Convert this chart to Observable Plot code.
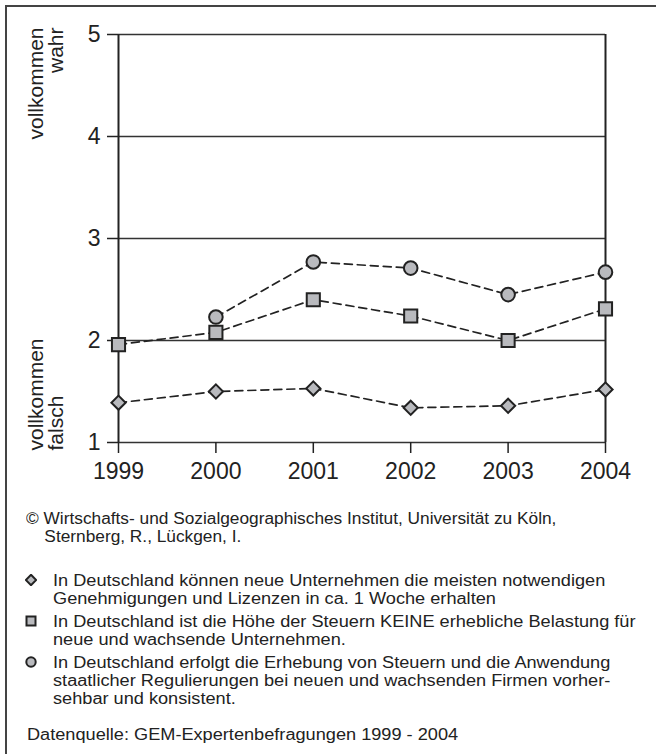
<!DOCTYPE html>
<html>
<head>
<meta charset="utf-8">
<script src="https://cdn.jsdelivr.net/npm/d3@7"></script>
<script src="https://cdn.jsdelivr.net/npm/@observablehq/plot@0.6"></script>
<style>
  html, body { margin: 0; padding: 0; background: #fff; }
  body { width: 656px; height: 754px; position: relative; overflow: hidden;
         font-family: "Liberation Sans", Arial, sans-serif; color: #222; }
  #frame { position: absolute; left: 5px; top: 5px; width: 660px; height: 760px;
           border-left: 2px solid #444; border-top: 2px solid #444; }
  #chart { position: absolute; left: 0; top: 0; }
  .note { position: absolute; white-space: nowrap; transform-origin: 0 0; }
  #copy { left: 26px; top: 510px; font-size: 16px; line-height: 18px; transform: scaleX(1.08); }
  #copy .l2 { padding-left: 17px; }
  .item { left: 53px; font-size: 16px; line-height: 18px; transform: scaleX(1.135); }
  .sw { position: absolute; left: 25px; width: 12px; height: 12px; }
  #source { left: 27px; top: 726px; font-size: 16px; line-height: 18px; transform: scaleX(1.135); }
</style>
</head>
<body>
<div id="frame"></div>
<div id="chart"></div>
<div id="notes"></div>
<script>
// ---- data ----
const years = [1999, 2000, 2001, 2002, 2003, 2004];
const yTicks = [1, 2, 3, 4, 5];
const genehmigungen = [1.39, 1.50, 1.53, 1.34, 1.36, 1.52];   // diamonds
const steuerHoehe   = [1.96, 2.08, 2.40, 2.24, 2.00, 2.31];   // squares
const regulierung   = [null, 2.23, 2.77, 2.71, 2.45, 2.67];   // circles
const seriesNames = [
  "In Deutschland können neue Unternehmen die meisten notwendigen\nGenehmigungen und Lizenzen in ca. 1 Woche erhalten",
  "In Deutschland ist die Höhe der Steuern KEINE erhebliche Belastung für\nneue und wachsende Unternehmen.",
  "In Deutschland erfolgt die Erhebung von Steuern und die Anwendung\nstaatlicher Regulierungen bei neuen und wachsenden Firmen vorher-\nsehbar und konsistent."
];
const seriesSymbols = ["diamond2", "square", "circle"];
const axisTop = "vollkommen\nwahr";
const axisBottom = "vollkommen\nfalsch";
const copyright = ["© Wirtschafts- und Sozialgeographisches Institut, Universität zu Köln,", "Sternberg, R., Lückgen, I."];
const sourceText = "Datenquelle: GEM-Expertenbefragungen 1999 - 2004";

const seriesValues = [genehmigungen, steuerHoehe, regulierung];
const rows = [];
seriesValues.forEach((vals, s) => years.forEach((yr, i) => rows.push({series: s, year: yr, value: vals[i]})));

const fill = "#b9babe", ink = "#222";
const symR = {diamond2: 6.4, square: 7.4, circle: 6.8};

const marks = [
  Plot.ruleY(yTicks, {stroke: "#333", strokeWidth: 1.5}),
  Plot.ruleX([years[0], years[years.length - 1]], {stroke: ink, strokeWidth: 2}),
  Plot.axisX({ticks: years, tickFormat: d => String(d), tickSize: 11, tickPadding: 9,
              fontSize: 23, strokeWidth: 1.5, label: null}),
  Plot.axisY({ticks: yTicks, tickFormat: d => String(d), tickSize: 11, tickPadding: 7,
              fontSize: 23, strokeWidth: 1.5, label: null}),
  Plot.line(rows, {x: "year", y: "value", z: "series", stroke: ink, strokeWidth: 1.7, strokeDasharray: "8,5"})
];
seriesSymbols.forEach((sym, s) => {
  marks.push(Plot.dot(rows.filter(d => d.series === s && d.value != null),
    {x: "year", y: "value", symbol: sym, r: symR[sym], fill, stroke: ink, strokeWidth: 2}));
});
marks.push(Plot.text([axisTop], {frameAnchor: "top-left", rotate: -90, textAnchor: "end",
  lineAnchor: "bottom", dx: -56, dy: -7, fontSize: 21, lineHeight: 0.95, fill: ink}));
marks.push(Plot.text([axisBottom], {frameAnchor: "bottom-left", rotate: -90, textAnchor: "start",
  lineAnchor: "bottom", dx: -56, dy: 8, fontSize: 21, lineHeight: 0.95, fill: ink}));

const chart = Plot.plot({
  width: 656, height: 490,
  marginLeft: 118, marginRight: 51, marginTop: 34, marginBottom: 48,
  style: {fontFamily: "'Liberation Sans', Arial, sans-serif", color: ink, background: "transparent", overflow: "visible"},
  x: {domain: [years[0], years[years.length - 1]]},
  y: {domain: [yTicks[0], yTicks[yTicks.length - 1]]},
  marks
});
document.getElementById("chart").appendChild(chart);

// ---- notes / legend ----
const notes = document.getElementById("notes");
const cp = document.createElement("div");
cp.id = "copy"; cp.className = "note";
cp.innerHTML = `<div>${copyright[0]}</div><div class="l2">${copyright[1]}</div>`;
notes.appendChild(cp);

const itemTops = [572, 613, 654];
const swatch = {
  diamond2: `<polygon points="6,0.8 11.2,6 6,11.2 0.8,6" />`,
  square: `<rect x="1.5" y="1.5" width="9" height="9" />`,
  circle: `<circle cx="6" cy="6" r="4.7" />`
};
seriesNames.forEach((name, s) => {
  const sw = document.createElementNS("http://www.w3.org/2000/svg", "svg");
  sw.setAttribute("class", "sw");
  sw.style.top = (itemTops[s] + 1.5) + "px";
  sw.setAttribute("viewBox", "0 0 12 12");
  sw.innerHTML = `<g fill="${fill}" stroke="${ink}" stroke-width="2">${swatch[seriesSymbols[s]]}</g>`;
  notes.appendChild(sw);
  const t = document.createElement("div");
  t.className = "note item";
  t.style.top = itemTops[s] + "px";
  t.innerHTML = name.split("\n").map(l => `<div>${l}</div>`).join("");
  notes.appendChild(t);
});
const src = document.createElement("div");
src.id = "source"; src.className = "note";
src.textContent = sourceText;
notes.appendChild(src);
</script>
</body>
</html>
